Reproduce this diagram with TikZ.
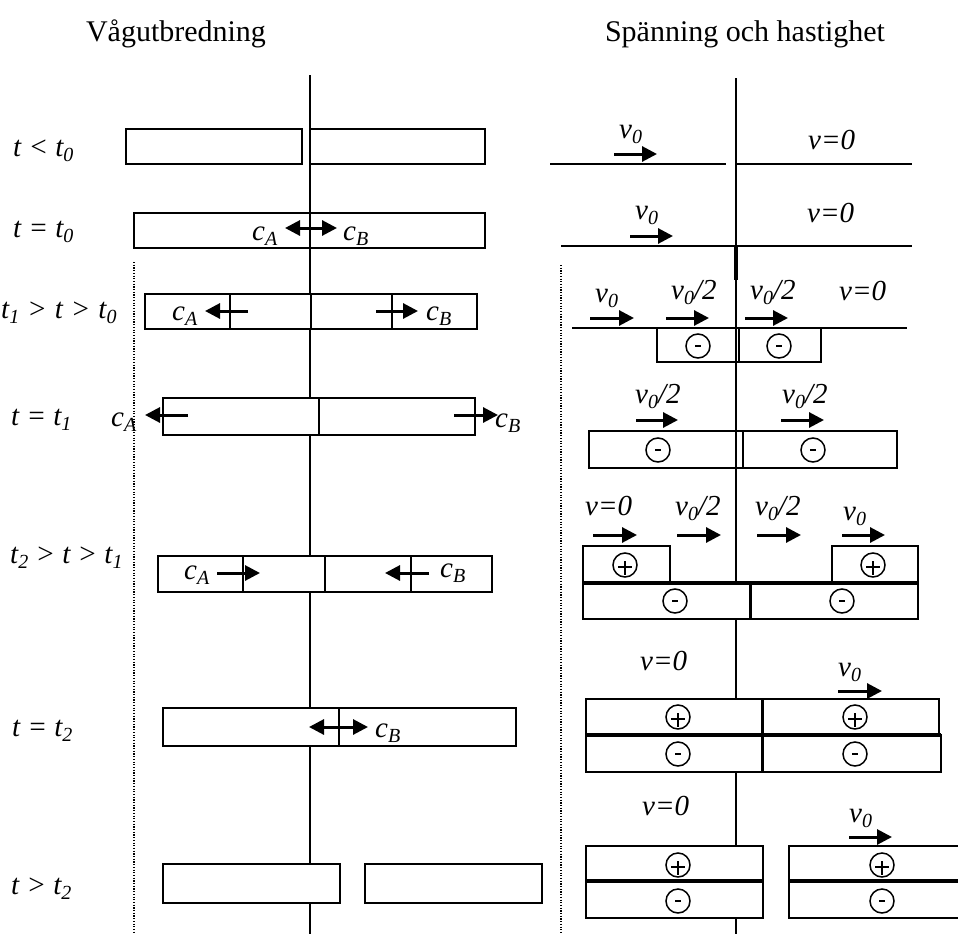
\documentclass[tikz,border=0pt]{standalone}
\usepackage{fontspec}
\setmainfont{Liberation Serif}
\usetikzlibrary{arrows.meta}
\newcommand\sbx[1]{\raisebox{-0.2em}{\fontsize{20}{20}\selectfont #1}}
\newcommand\wsp{\hspace{8pt}}
\tikzset{
  lab/.style={anchor=base west, inner sep=0pt, font=\fontsize{29}{33}\selectfont\itshape},
  ttl/.style={anchor=base, inner sep=0pt, font=\fontsize{30}{34}\selectfont},
  axis/.style={line width=1.6pt},
  boxs/.style={draw, line width=1.9pt, fill=white},
  boxo/.style={draw, line width=1.9pt},
  divl/.style={line width=1.9pt},
  sep/.style={line width=3.6pt},
  hline/.style={line width=1.9pt},
  dots/.style={line width=1.2pt, dash pattern=on 1.2pt off 1.5pt},
  arr/.style={line width=3pt, -{Triangle[length=15pt,width=15pt]}},
  darr/.style={line width=3pt, {Triangle[length=15pt,width=15pt]}-{Triangle[length=15pt,width=15pt]}},
  mcirc/.style={circle, draw, line width=1.5pt, minimum size=24pt, inner sep=0pt, fill=white,
    path picture={\draw[line width=2.8pt] ([xshift=-3pt]path picture bounding box.center) -- ([xshift=3pt]path picture bounding box.center);}},
  pcirc/.style={circle, draw, line width=1.5pt, minimum size=24pt, inner sep=0pt, fill=white,
    path picture={\draw[line width=1.3pt] ([xshift=-7pt,yshift=-2pt]path picture bounding box.center) -- ([xshift=7pt,yshift=-2pt]path picture bounding box.center)
      ([yshift=4pt]path picture bounding box.center) -- ([yshift=-10pt]path picture bounding box.center);}},
}
\begin{document}
\begin{tikzpicture}[x=1pt,y=-1pt]
\useasboundingbox[fill=white] (0,0) rectangle (958,934);

% titles
\node[ttl] (t1) at (176,42) {Vågutbredning};
\node[ttl] (t2) at (745,42) {Spänning och hastighet};

% axes and dotted guides
\draw[axis] (310,75) -- (310,934);
\draw[axis] (736,78) -- (736,934);
\draw[dots] (134,262) -- (134,934);
\draw[dots] (561,265) -- (561,934);

% ---------------- left panel ----------------
% row 1
\node[lab] (la1) at (13,156) {t < t\sbx{0}};
\path[boxs] (126,129) rectangle (302,164);
\path[boxs] (310,129) rectangle (485,164);
% row 2
\node[lab] (la2) at (13,237) {t = t\sbx{0}};
\path[boxs] (134,213) rectangle (485,248);
\draw[divl] (310,213) -- (310,248);
\node[lab] (ca2) at (252,240) {c\sbx{A}};
\node[lab] (cb2) at (343,240) {c\sbx{B}};
\draw[darr] (285,228) -- (337,228);
% row 3
\node[lab] (la3) at (1,318) {t\sbx{1}\wsp>\wsp t\wsp>\wsp t\sbx{0}};
\path[boxs] (145,294) rectangle (477,329);
\draw[divl] (230,294) -- (230,329) (311,294) -- (311,329) (392,294) -- (392,329);
\node[lab] (ca3) at (172,320) {c\sbx{A}};
\node[lab] (cb3) at (426,320) {c\sbx{B}};
\draw[arr] (248,311) -- (205,311);
\draw[arr] (376,311) -- (418,311);
% row 4
\node[lab] (la4) at (11,425) {t = t\sbx{1}};
\path[boxs] (163,398) rectangle (475,435);
\draw[divl] (319,398) -- (319,435);
\node[lab] (ca4) at (111,426) {c\sbx{A}};
\node[lab] (cb4) at (495,427) {c\sbx{B}};
\draw[arr] (188,415) -- (145,415);
\draw[arr] (454,415) -- (498,415);
% row 5
\node[lab] (la5) at (10,563) {t\sbx{2} > t > t\sbx{1}};
\path[boxs] (158,556) rectangle (492,592);
\draw[divl] (243,556) -- (243,592) (325,556) -- (325,592) (411,556) -- (411,592);
\node[lab] (ca5) at (184,579) {c\sbx{A}};
\node[lab] (cb5) at (440,577) {c\sbx{B}};
\draw[arr] (217,573) -- (260,573);
\draw[arr] (429,573) -- (385,573);
% row 6
\node[lab] (la6) at (12,736) {t = t\sbx{2}};
\path[boxs] (163,708) rectangle (516,746);
\draw[divl] (339,708) -- (339,746);
\draw[darr] (309,727) -- (368,727);
\node[lab] (cb6) at (375,737) {c\sbx{B}};
% row 7
\node[lab] (la7) at (11,894) {t > t\sbx{2}};
\path[boxs] (163,864) rectangle (340,903);
\path[boxs] (365,864) rectangle (542,903);

% ---------------- right panel ----------------
% row 1
\draw[hline] (550,164) -- (726,164);
\draw[hline] (737,164) -- (912,164);
\node[lab] (r1a) at (619,138) {v\sbx{0}};
\node[lab] (r1b) at (808,149) {v=0};
\draw[arr] (614,154) -- (657,154);
% row 2
\draw[hline] (561,246) -- (912,246);
\draw[line width=3.6pt] (736,246) -- (736,280);
\node[lab] (r2a) at (635,219) {v\sbx{0}};
\node[lab] (r2b) at (807,222) {v=0};
\draw[arr] (630,236) -- (673,236);
% row 3
\draw[hline] (572,328) -- (907,328);
\path[boxo] (657,328) rectangle (821,362);
\draw[divl] (739,328) -- (739,362);
\node[mcirc] (r3m1) at (698,346) {};
\node[mcirc] (r3m2) at (779,346) {};
\node[lab] (r3a) at (595,302) {v\sbx{0}};
\node[lab] (r3b) at (671,299) {v\sbx{0}/2};
\node[lab] (r3c) at (750,299) {v\sbx{0}/2};
\node[lab] (r3d) at (839,300) {v=0};
\draw[arr] (590,318) -- (634,318);
\draw[arr] (666,318) -- (709,318);
\draw[arr] (745,318) -- (788,318);
% row 4
\path[boxo] (589,431) rectangle (897,468);
\draw[divl] (743,431) -- (743,468);
\node[mcirc] (r4m1) at (658,450) {};
\node[mcirc] (r4m2) at (813,450) {};
\node[lab] (r4a) at (635,403) {v\sbx{0}/2};
\node[lab] (r4b) at (782,403) {v\sbx{0}/2};
\draw[arr] (636,420) -- (678,420);
\draw[arr] (781,420) -- (824,420);
% row 5
\path[boxs] (583,546) rectangle (670,583);
\path[boxs] (832,546) rectangle (918,583);
\path[boxs] (583,583) rectangle (750,619);
\path[boxs] (751,583) rectangle (918,619);
\draw[sep] (583,583) -- (918,583);
\node[pcirc] (r5p1) at (625,565) {};
\node[pcirc] (r5p2) at (873,565) {};
\node[mcirc] (r5m1) at (675,601) {};
\node[mcirc] (r5m2) at (842,601) {};
\node[lab] (r5a) at (585,515) {v=0};
\node[lab] (r5b) at (675,515) {v\sbx{0}/2};
\node[lab] (r5c) at (755,515) {v\sbx{0}/2};
\node[lab] (r5d) at (843,520) {v\sbx{0}};
\draw[arr] (593,535) -- (637,535);
\draw[arr] (677,535) -- (721,535);
\draw[arr] (757,535) -- (801,535);
\draw[arr] (842,535) -- (885,535);
% row 6
\path[boxs] (586,699) rectangle (762,735);
\path[boxs] (763,699) rectangle (939,735);
\path[boxs] (586,735) rectangle (762,772);
\path[boxs] (763,735) rectangle (941,772);
\draw[sep] (586,735) -- (941,735);
\node[pcirc] (r6p1) at (678,717) {};
\node[pcirc] (r6p2) at (855,717) {};
\node[mcirc] (r6m1) at (678,754) {};
\node[mcirc] (r6m2) at (855,754) {};
\node[lab] (r6a) at (640,670) {v=0};
\node[lab] (r6b) at (838,676) {v\sbx{0}};
\draw[arr] (838,691) -- (882,691);
% row 7
\path[boxs] (586,846) rectangle (763,881);
\path[boxs] (586,881) rectangle (763,918);
\path[boxs] (789,846) rectangle (962,881);
\path[boxs] (789,881) rectangle (962,918);
\draw[sep] (586,881) -- (763,881);
\draw[sep] (789,881) -- (962,881);
\node[pcirc] (r7p1) at (678,865) {};
\node[pcirc] (r7p2) at (882,865) {};
\node[mcirc] (r7m1) at (678,901) {};
\node[mcirc] (r7m2) at (882,901) {};
\node[lab] (r7a) at (642,815) {v=0};
\node[lab] (r7b) at (849,822) {v\sbx{0}};
\draw[arr] (849,837) -- (892,837);
\end{tikzpicture}
\end{document}
